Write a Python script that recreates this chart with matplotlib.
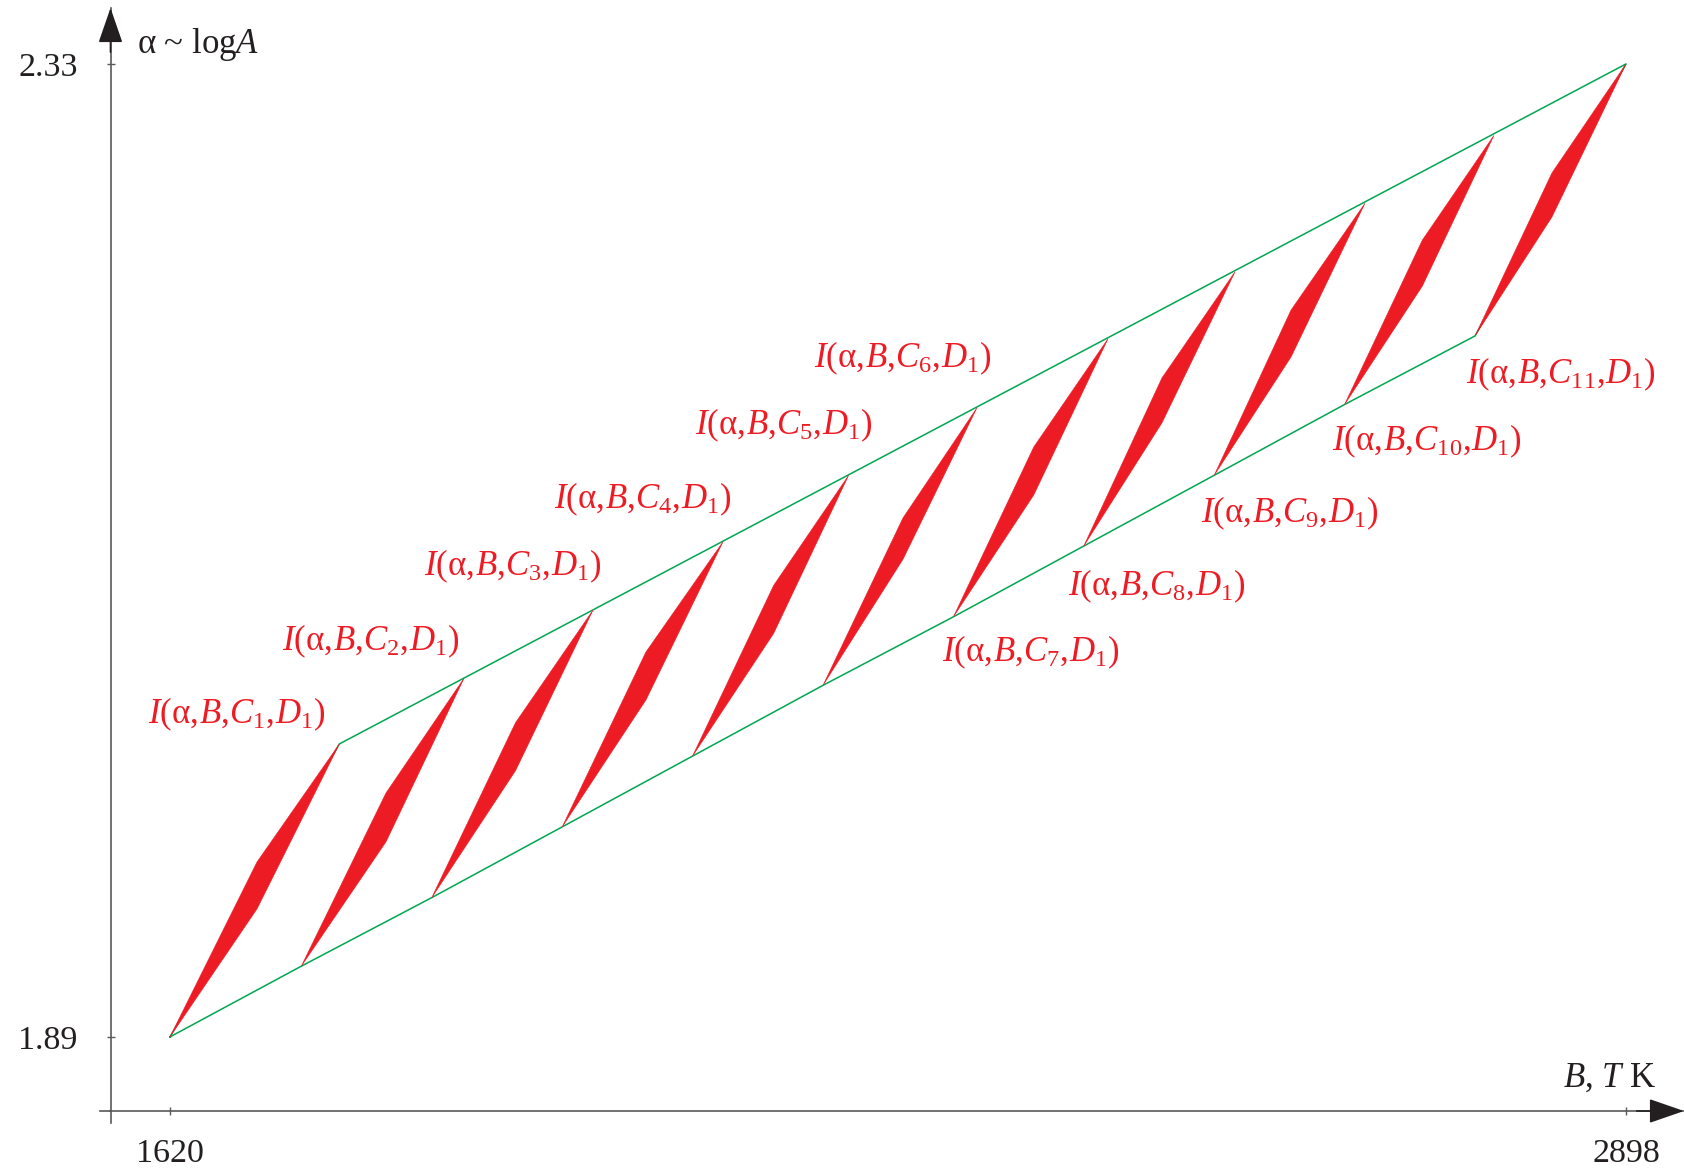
import matplotlib.pyplot as plt

plt.rcParams['font.family'] = ['Liberation Serif', 'DejaVu Serif']
plt.rcParams['mathtext.fontset'] = 'custom'
plt.rcParams['mathtext.rm'] = 'Liberation Serif'
plt.rcParams['mathtext.it'] = 'Liberation Serif:italic'

RED = '#ed1c24'
GREEN = '#00a651'
AXIS = '#595959'
INK = '#231f20'

# start of each band on the lower edge of the region (B in K, alpha)
b_low = [1620, 1735.3, 1849.8, 1964.3, 2078.7, 2193.2, 2307.7, 2422.1, 2536.6, 2651.0, 2765.5]
a_low = [1.890, 1.922, 1.953, 1.985, 2.017, 2.049, 2.080, 2.112, 2.144, 2.176, 2.207]

# end of each band on the upper edge
b_high = [1768.7, 1878.1, 1991.3, 2105.4, 2215.6, 2328.3, 2443.3, 2554.8, 2668.9, 2782.1, 2898]
a_high = [2.0225, 2.0522, 2.0830, 2.1139, 2.1439, 2.1745, 2.2057, 2.2360, 2.2670, 2.2977, 2.33]

# middle knot of each band: B and the upper / lower alpha there
b_mid = [1696.4, 1809.6, 1923.3, 2037.8, 2149.9, 2263.4, 2378.2, 2490.7, 2604.0, 2719.2, 2833.0]
a_mid_top = [1.9691, 2.0003, 2.0321, 2.0641, 2.0942, 2.1247, 2.1568, 2.1880, 2.2187, 2.2503, 2.2807]
a_mid_bot = [1.9479, 1.9782, 2.0104, 2.0424, 2.0725, 2.1060, 2.1351, 2.1677, 2.1975, 2.2295, 2.2608]

band_index = [1, 2, 3, 4, 5, 6, 7, 8, 9, 10, 11]

# where each band name is written (left edge, vertical centre)
label_b = [1600.7, 1718.3, 1843.0, 1957.1, 2080.8, 2185.3, 2297.6, 2408.2, 2525.0, 2640.0, 2757.6]
label_a = [2.0361, 2.0691, 2.1030, 2.1333, 2.1667, 2.1970, 2.0641, 2.0939, 2.1270, 2.1595, 2.1898]

x_ticks = [1620, 2898]
y_ticks = [1.89, 2.33]

fig = plt.figure(figsize=(16.84, 11.71), dpi=100)
ax = fig.add_axes([110.5 / 1684, 60 / 1171, 1573.5 / 1684, 1103 / 1171])
ax.set_xlim(1567.8, 2948.9)
ax.set_ylim(1.8565, 2.3553)

# region boundary
ax.plot(b_low + [b_high[-1], b_high[0], b_low[0]],
        a_low + [a_high[-1], a_high[0], a_low[0]],
        color=GREEN, lw=1.1, zorder=2)

# red bands
for i in range(len(b_low)):
    xs = [b_low[i], b_mid[i], b_high[i], b_mid[i]]
    ys = [a_low[i], a_mid_top[i], a_high[i], a_mid_bot[i]]
    ax.fill(xs, ys, color=RED, lw=0.4, zorder=3)

for n, xb, ya in zip(band_index, label_b, label_a):
    ax.text(xb, ya, r'$I(\mathrm{\alpha},\!B,\!C_{%d},\!D_{1})$' % n,
            color=RED, fontsize=25, ha='left', va='center')

# axes with arrows
for side in ['top', 'right']:
    ax.spines[side].set_visible(False)
for side in ['left', 'bottom']:
    ax.spines[side].set_color(AXIS)
    ax.spines[side].set_linewidth(1.2)
ax.plot([-0.0067, 0], [0, 0], color=AXIS, lw=1.2, transform=ax.transAxes, clip_on=False)
ax.plot([0, 0], [-0.011, 0], color=AXIS, lw=1.2, transform=ax.transAxes, clip_on=False)
arrow = dict(arrowstyle='-|>,head_length=1.3,head_width=0.45', color=INK,
             lw=1.2, shrinkA=0, shrinkB=0, mutation_scale=17)
ax.annotate('', xy=(1, 0), xytext=(0.97, 0), xycoords='axes fraction', arrowprops=arrow)
ax.annotate('', xy=(0, 1), xytext=(0, 0.96), xycoords='axes fraction', arrowprops=arrow)

ax.set_xticks(x_ticks, [str(v) for v in x_ticks])
ax.set_yticks(y_ticks, ['%.2f' % v for v in y_ticks])
ax.tick_params(direction='inout', length=5.5, width=1, color=AXIS,
               labelsize=24.5, labelcolor=INK)
ax.tick_params(axis='x', pad=17)
ax.tick_params(axis='y', pad=21)

ax.text(1591, 2.339, r'α ~ log$A$', fontsize=25, color=INK, ha='left', va='center')
ax.text(2842.7, 1.8715, r'$B$, $T$ K', fontsize=25, color=INK, ha='left', va='center')

fig.savefig('out.png', dpi=100)
